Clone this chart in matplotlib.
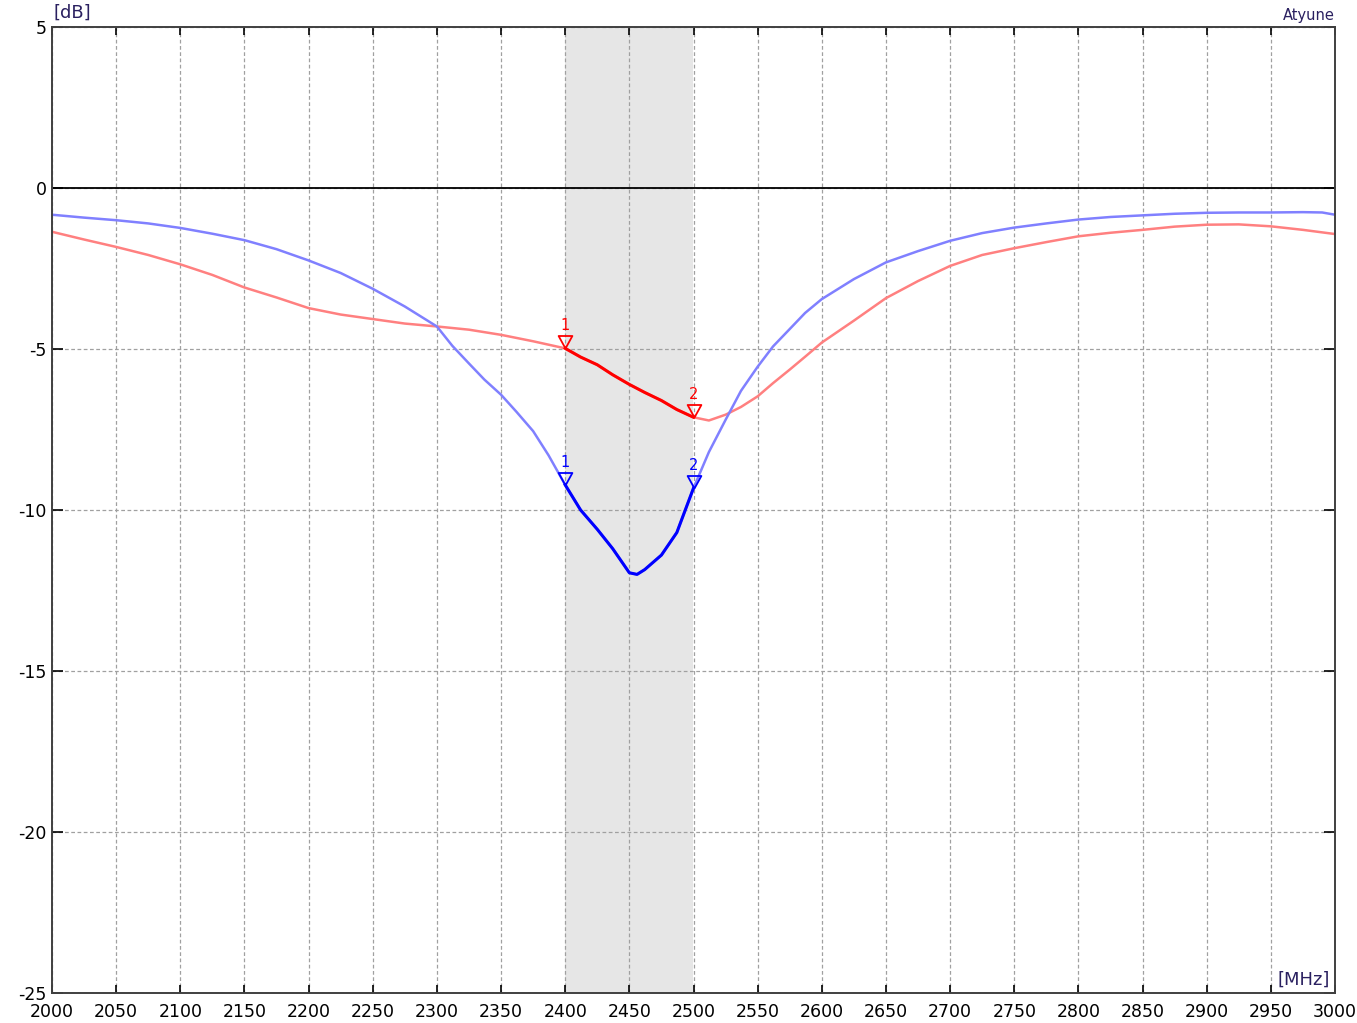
import matplotlib
matplotlib.use('Agg')
import matplotlib.pyplot as plt
import numpy as np
from matplotlib.path import Path

# ---------------- data ----------------
freq_blue = [2000, 2025, 2050, 2075, 2100, 2125, 2150, 2175, 2200, 2225, 2250, 2275,
             2300, 2312, 2325, 2337, 2350, 2362, 2375, 2387, 2400, 2412, 2425, 2437,
             2450, 2456, 2462, 2475, 2487, 2500, 2512, 2525, 2537, 2550, 2562, 2575,
             2587, 2600, 2625, 2650, 2675, 2700, 2725, 2750, 2775, 2800, 2825, 2850,
             2875, 2900, 2925, 2950, 2975, 2990, 3000]
s11_blue = [-0.83, -0.92, -1.00, -1.10, -1.24, -1.42, -1.62, -1.90, -2.25, -2.64, -3.13, -3.68,
            -4.30, -4.90, -5.45, -5.95, -6.42, -6.95, -7.55, -8.30, -9.22, -10.00, -10.60, -11.20,
            -11.95, -12.00, -11.85, -11.40, -10.70, -9.32, -8.20, -7.20, -6.30, -5.55, -4.92, -4.38,
            -3.88, -3.45, -2.83, -2.31, -1.96, -1.64, -1.40, -1.23, -1.10, -0.98, -0.90, -0.85,
            -0.80, -0.77, -0.76, -0.76, -0.75, -0.76, -0.83]

freq_red = [2000, 2025, 2050, 2075, 2100, 2125, 2150, 2175, 2200, 2225, 2250, 2275,
            2300, 2325, 2350, 2375, 2400, 2412, 2425, 2437, 2450, 2462, 2475, 2487,
            2500, 2512, 2525, 2537, 2550, 2562, 2575, 2587, 2600, 2625, 2650, 2675,
            2700, 2725, 2750, 2775, 2800, 2825, 2850, 2875, 2900, 2925, 2950, 2975, 3000]
s11_red = [-1.36, -1.60, -1.83, -2.08, -2.37, -2.70, -3.09, -3.40, -3.73, -3.93, -4.07, -4.21,
           -4.30, -4.40, -4.56, -4.76, -4.98, -5.25, -5.49, -5.80, -6.10, -6.35, -6.60, -6.88,
           -7.12, -7.22, -7.04, -6.80, -6.47, -6.06, -5.64, -5.24, -4.80, -4.12, -3.42, -2.89,
           -2.42, -2.08, -1.87, -1.68, -1.50, -1.39, -1.30, -1.20, -1.14, -1.13, -1.19, -1.30, -1.43]

band = (2400, 2500)
marker_freqs = [2400, 2500]
marker_labels = ['1', '2']
xticks = list(range(2000, 3001, 50))
yticks = [5, 0, -5, -10, -15, -20, -25]

# ---------------- figure ----------------
plt.rcParams['font.family'] = ['DejaVu Sans']
W, H = 1357, 1023
fig = plt.figure(figsize=(W / 100, H / 100), dpi=100)
L, R, T, B = 52, 1335, 27, 993
ax = fig.add_axes([L / W, 1 - B / H, (R - L) / W, (B - T) / H])

ax.set_xlim(2000, 3000)
ax.set_ylim(-25, 5)
ax.set_xticks(xticks)
ax.set_yticks(yticks)
ax.set_xticklabels([str(t) for t in xticks])
ax.set_yticklabels([str(t) for t in yticks])
ax.tick_params(axis='x', direction='in', length=6, width=1.2, color='black',
               top=True, bottom=True, labelsize=12.5, pad=7)
ax.tick_params(axis='y', direction='in', length=8, width=1.2, color='black',
               left=True, right=True, labelsize=12.5, pad=4)
for sp in ax.spines.values():
    sp.set_color('#404040')
    sp.set_linewidth(1.4)

ax.axvspan(band[0], band[1], color='#e6e6e6', zorder=0.2, lw=0)
ax.set_axisbelow(True)
ax.grid(True, linestyle=(0, (3, 2)), color='#a0a0a0', linewidth=0.9)
ax.axhline(0, color='black', lw=1.3, zorder=1)

tri = Path([(-0.55, 1.0), (0.55, 1.0), (0.0, 0.0), (-0.55, 1.0)],
           [Path.MOVETO, Path.LINETO, Path.LINETO, Path.CLOSEPOLY])

series = [
    (freq_red, s11_red, '#ff8080', '#ff0000', 'red'),
    (freq_blue, s11_blue, '#8080ff', '#0000ff', 'blue'),
]
for fq, val, pale, bold, lab_col in series:
    fq = np.asarray(fq, float)
    val = np.asarray(val, float)
    ax.plot(fq, val, color=pale, lw=1.8, zorder=2, solid_joinstyle='round')
    m = (fq >= band[0]) & (fq <= band[1])
    ax.plot(fq[m], val[m], color=bold, lw=2.2, zorder=3, solid_joinstyle='round')
    mv = np.interp(marker_freqs, fq, val)
    ax.plot(marker_freqs, mv, ls='none', marker=tri, ms=18, mfc='none',
            mec=bold, mew=1.3, zorder=4)
    for f, v, t in zip(marker_freqs, mv, marker_labels):
        ax.annotate(t, (f, v), xytext=(0, 13), textcoords='offset points',
                    ha='center', va='baseline', color=lab_col, fontsize=10.5, zorder=5)

ax.text(0.001, 1.005, '[dB]', transform=ax.transAxes, ha='left', va='bottom',
        fontsize=13, color='#2a2060')
ax.text(1.0, 1.007, 'Atyune', transform=ax.transAxes, ha='right', va='baseline',
        fontsize=10.5, color='#2a2060')
ax.text(0.996, 0.004, '[MHz]', transform=ax.transAxes, ha='right', va='bottom',
        fontsize=13, color='#2a2060')

fig.savefig('out.png', dpi=100)
